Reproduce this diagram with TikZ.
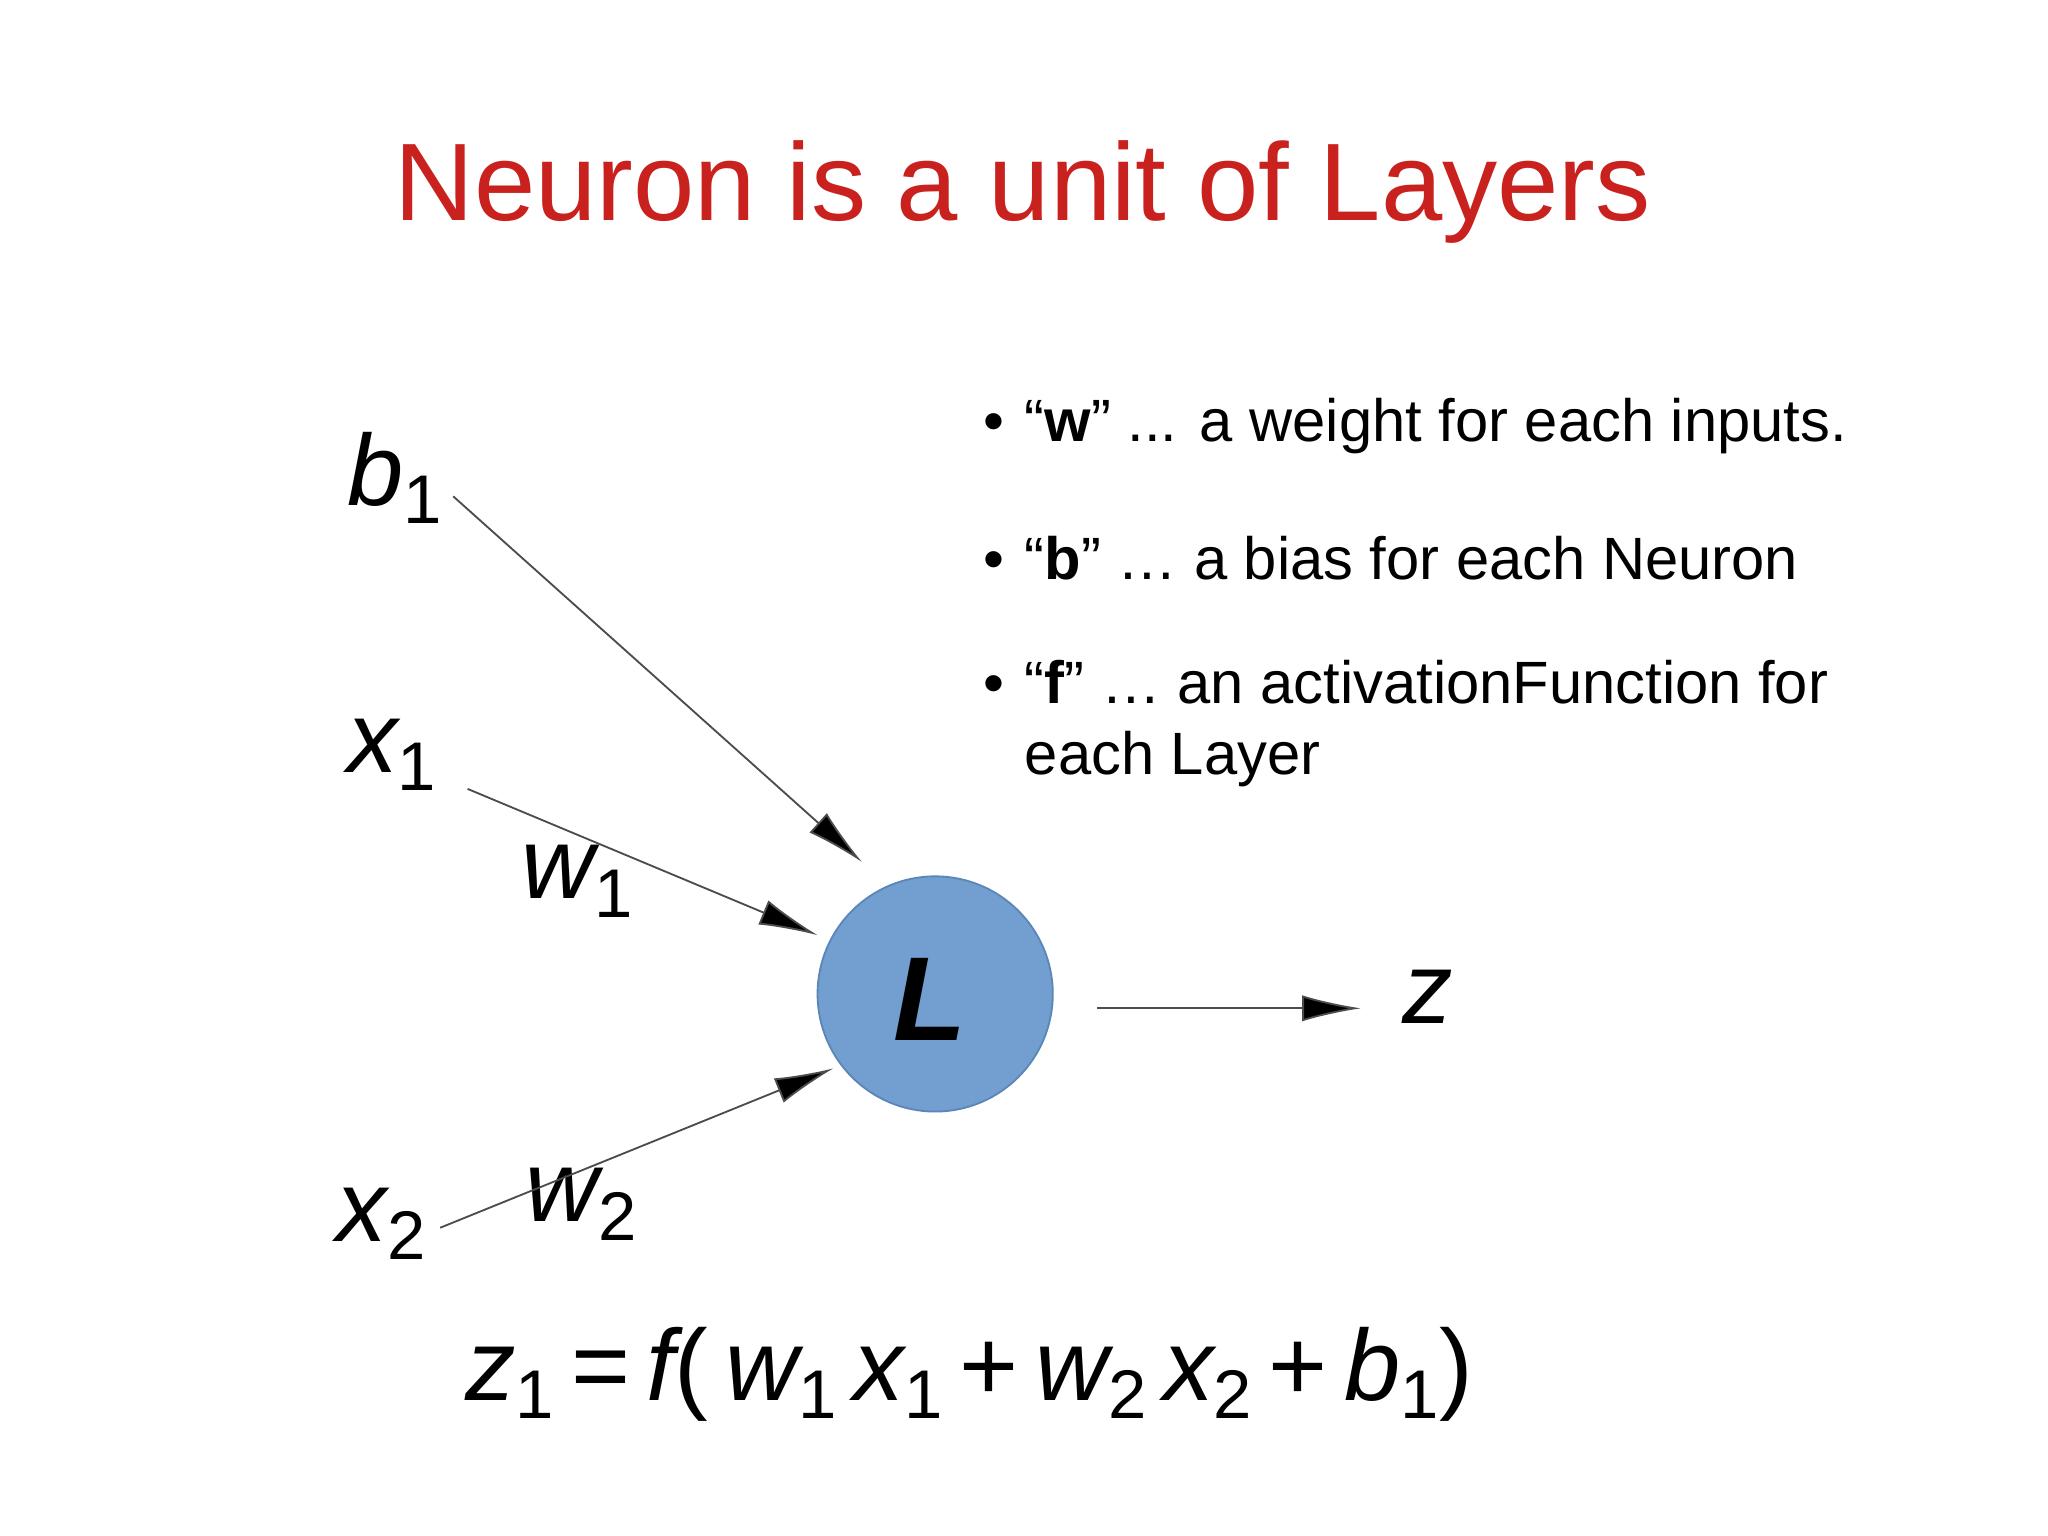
\documentclass[tikz,border=0pt]{standalone}
\usepackage{fontspec}
\setmainfont{Liberation Sans}
\usetikzlibrary{arrows.meta}
\definecolor{titlered}{HTML}{C9211E}
\definecolor{nfill}{HTML}{729FCF}
\definecolor{nedge}{HTML}{5A86B8}
\newcommand{\sbs}[1]{\raisebox{-0.35ex}{\upshape\fontsize{15}{15}\selectfont #1}}
\begin{document}
\begin{tikzpicture}[x=0.01cm,y=-0.01cm,
  var/.style={font=\fontsize{22}{24}\selectfont\itshape, inner sep=0pt},
  conn/.style={draw=black!70, line width=0.4pt, -{Latex[length=0.45cm,width=0.2cm,fill=black]}},
  bul/.style={font=\fontsize{13}{15.5}\selectfont, anchor=west, inner sep=0pt, align=left}]
\useasboundingbox (0,0) rectangle (1568,1176);
\fill[white] (0,0) rectangle (1568,1176);
\node[font=\fontsize{24}{28}\selectfont, text=titlered] (title) at (783,147) {Neuron is a unit of Layers};
\node[var] (b1) at (302,366) {b\sbs{1}};
\node[var] (x1) at (300,578) {x\sbs{1}};
\node[var] (x2) at (292,937) {x\sbs{2}};
\node[var] (w1) at (442,675) {w\sbs{1}};
\node[var] (w2) at (445,922) {w\sbs{2}};
\node[circle, fill=nfill, draw=nedge, minimum size=1.8cm, inner sep=0pt] (L) at (716,761) {};
\node[var, font=\fontsize{26}{28}\selectfont\bfseries\itshape] (Lt) at (712,765) {L};
\node[var] (z) at (1093,763) {z};
\coordinate (b1s) at (347,380); \coordinate (b1e) at (660,660);
\coordinate (x1s) at (358,604); \coordinate (x1e) at (626,716);
\coordinate (x2s) at (337,940); \coordinate (x2e) at (638,818);
\coordinate (os) at (840,772); \coordinate (oe) at (1042,772);
\draw[conn] (b1s) -- (b1e);
\draw[conn] (x1s) -- (x1e);
\draw[conn] (x2s) -- (x2e);
\draw[conn] (os) -- (oe);
\node[bul] (t1) at (752,326) {•\hspace{0.35em}“\textbf{w}” ... a weight for each inputs.};
\node[bul] (t2) at (752,427) {•\hspace{0.35em}“\textbf{b}” … a bias for each Neuron};
\node[bul, anchor=north west] (t3) at (752,505) {•\hspace{0.35em}“\textbf{f}” … an activationFunction for\\\hspace{0.7em}each Layer};
\node[var, font=\fontsize{22}{24}\selectfont] (eq) at (742,1052) {\itshape z\sbs{1}\,\upshape=\,\itshape f\upshape(\,\itshape w\sbs{1}\,x\sbs{1}\upshape\,+\,\itshape w\sbs{2}\,x\sbs{2}\upshape\,+\,\itshape b\sbs{1}\upshape)};
\end{tikzpicture}
\end{document}
